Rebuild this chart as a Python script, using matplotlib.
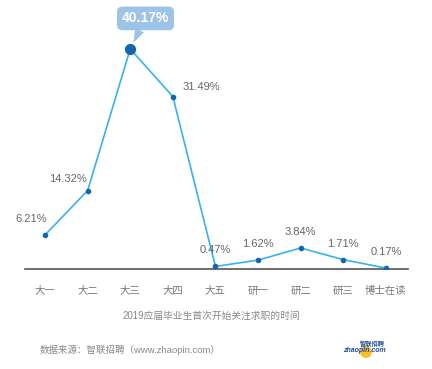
import matplotlib.pyplot as plt
from matplotlib.patches import Ellipse

plt.rcParams['font.family'] = ['Liberation Sans', 'Noto Sans CJK SC', 'DejaVu Sans']

# 数据
stages = ['大一', '大二', '大三', '大四', '大五', '研一', '研二', '研三', '博士在读']
share = [6.21, 14.32, 40.17, 31.49, 0.47, 1.62, 3.84, 1.71, 0.17]
peak_idx = 2

line_c = '#35b3ec'
dot_c = '#1565b0'
txt_c = '#666666'
box_c = '#9dc3e6'

fig = plt.figure(figsize=(4.32, 3.69), dpi=100)
ax = fig.add_axes([25 / 432, 100 / 369, 383 / 432, 241 / 369])

x = list(range(len(stages)))
ax.plot(x, share, color=line_c, lw=1.2, zorder=2)
ax.scatter(x, share, s=9, color=dot_c, zorder=3)
ax.scatter([peak_idx], [share[peak_idx]], s=50, color=dot_c, zorder=4)

ax.set_xlim(-0.47, 8.52)
ax.set_ylim(0, 44)

# 数值标签 (偏移量, 对齐方式)
offsets = {0: (-10, 8, 'center'), 1: (-14, 5, 'center'), 3: (7, 3, 'left')}
for i, v in enumerate(share):
    if i == peak_idx:
        continue
    dx, dy, ha = offsets.get(i, (0, 8, 'center'))
    ax.annotate('%.2f%%' % v, (i, v), xytext=(dx, dy), textcoords='offset points',
                ha=ha, va='bottom', fontsize=8, color=txt_c)

# 最高点气泡
ax.annotate('%.2f%%' % share[peak_idx], (peak_idx, share[peak_idx]),
            xytext=(11, 22), textcoords='offset points',
            ha='center', va='center', fontsize=10, fontweight='bold', color='white',
            bbox=dict(boxstyle='round,pad=0.35,rounding_size=0.4', fc=box_c, ec='none'),
            arrowprops=dict(arrowstyle='wedge,tail_width=0.7,shrink_factor=0.5',
                            fc=box_c, ec='none', shrinkA=0, shrinkB=5),
            annotation_clip=False)

for s in ['top', 'right', 'left']:
    ax.spines[s].set_visible(False)
ax.spines['bottom'].set_color('#555555')
ax.spines['bottom'].set_linewidth(1.2)
ax.set_yticks([])
ax.set_xticks(x)
ax.set_xticklabels(stages, fontsize=7.5, color='#777777')
ax.tick_params(axis='x', length=0, pad=12)

fig.text(211 / 432, 1 - 316 / 369, '2019应届毕业生首次开始关注求职的时间',
         ha='center', va='center', fontsize=7, color='#888888')
fig.text(40 / 432, 1 - 350 / 369, '数据来源：智联招聘（www.zhaopin.com）',
         ha='left', va='center', fontsize=6.8, color='#888888')

# logo
fig.patches.append(Ellipse((366 / 432, 1 - 352 / 369), 12 / 432, 12 / 369,
                           transform=fig.transFigure, fc='#f5c02a', ec='none'))
fig.text(364 / 432, 1 - 350 / 369, 'zhaopin.com', ha='center', va='center',
         fontsize=5, color='#1f4fa0', fontweight='bold', style='italic')
fig.text(372 / 432, 1 - 344 / 369, '智联招聘', ha='center', va='center',
         fontsize=4.5, color='#1f4fa0', fontweight='bold')

fig.savefig('out.png', dpi=100, facecolor='white')
